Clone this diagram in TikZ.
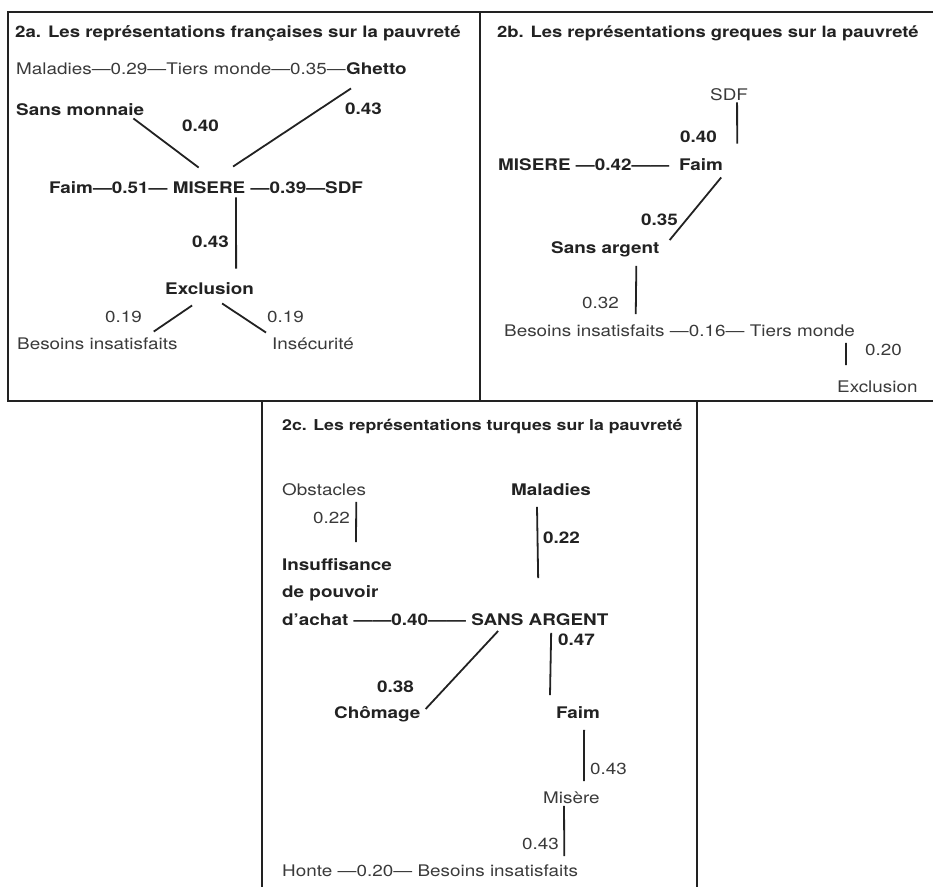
\documentclass[tikz,border=0pt]{standalone}
\usepackage{fontspec}
\setmainfont{TeX Gyre Heros}[FakeStretch=1.18]
\usepackage{tikz}
\usetikzlibrary{positioning}
\definecolor{ink}{HTML}{222222}
\definecolor{thin}{HTML}{3A3A3A}
\tikzset{word/.style={inner sep=0pt, text height=11.5pt, text depth=0pt, anchor=west, font=\fontsize{16}{19}\selectfont}}
\tikzset{heavy/.style={word, text=ink, font=\fontsize{16}{19}\selectfont\bfseries}}
\tikzset{light/.style={word, text=thin}}
\tikzset{heading/.style={heavy, font=\fontsize{#1}{19}\selectfont\bfseries}}
\tikzset{link/.style={draw=ink, line width=1.8pt}}
\tikzset{frame/.style={draw=ink, line width=1.6pt}}

\begin{document}
\begin{tikzpicture}[x=1pt, y=-1pt]
  \useasboundingbox (0,0) rectangle (933,887);

  \draw[frame] (933,12) -- (8,12) -- (8,401) -- (933,401);
  \draw[frame] (480,12) -- (480,401);
  \draw[frame] (262,401) -- (262,887);
  \draw[frame] (697,401) -- (697,887);

  % 2a
  \node[heading=15.8] (title2a) at (15,31.5) {2a. Les représentations françaises sur la pauvreté};
  \node[heavy] (ghetto) at (346,68.5) {Ghetto};
  \node[light, left=0pt of ghetto] (maladies2a) {Maladies—0.29—Tiers monde—0.35—};
  \node[heavy] (sansmonnaie) at (16,109.5) {Sans monnaie};
  \node[heavy] (w040a) at (182,126) {0.40};
  \node[heavy] (w043a) at (345,108.5) {0.43};
  \node[heavy] (faim2a) at (49,187.5) {Faim—0.51—};
  \node[heavy, right=5pt of faim2a] (misere2a) {MISERE};
  \node[heavy, right=5pt of misere2a] (sdf2a) {—0.39—SDF};
  \node[heavy] (w043b) at (192,241.5) {0.43};
  \node[heavy] (exclusion2a) at (165,288.5) {Exclusion};
  \node[light] (w019a) at (105,317) {0.19};
  \node[light] (w019b) at (267,317) {0.19};
  \node[light] (besoins2a) at (17,343.5) {Besoins insatisfaits};
  \node[light] (insecurite) at (272,343.5) {Insécurité};

  \draw[link] ([shift={(-11,3)}]sansmonnaie.south east) -- ([shift={(26,-14)}]misere2a.north west);
  \draw[link] ([shift={(5,14)}]ghetto.south west) -- ([shift={(24,-15)}]misere2a.north);
  \draw[link] ([shift={(27,4)}]misere2a.south) -- ([shift={(26.5,-14)}]exclusion2a.north);
  \draw[link] ([shift={(-17.5,11)}]exclusion2a.south) -- ([shift={(-24,-6)}]besoins2a.north east);
  \draw[link] ([shift={(12.5,9)}]exclusion2a.south) -- ([shift={(-6,-5)}]insecurite.north west);

  % 2b
  \node[heading=15.6] (title2b) at (497,31.5) {2b. Les représentations greques sur la pauvreté};
  \node[light] (sdf2b) at (710,94.5) {SDF};
  \node[heavy] (w040b) at (680,137) {0.40};
  \node[heavy] (misere2b) at (498,164.5) {MISERE};
  \node[heavy, right=5pt of misere2b] (dash042) {—0.42——};
  \node[heavy] (faim2b) at (679,164.5) {Faim};
  \node[heavy] (w035) at (641,220) {0.35};
  \node[heavy] (sansargent2b) at (551,248) {Sans argent};
  \node[light] (w032) at (582,303) {0.32};
  \node[light] (besoins2b) at (504,331) {Besoins insatisfaits};
  \node[light, right=5pt of besoins2b] (dash016) {—0.16—};
  \node[light, right=5pt of dash016] (tiers2b) {Tiers monde};
  \node[light] (w020) at (865,350) {0.20};
  \node[light] (exclusion2b) at (837,387) {Exclusion};

  \draw[link] ([shift={(8,2)}]sdf2b.south) -- ([shift={(14,-15)}]faim2b.north east);
  \draw[link] ([shift={(-2,7)}]faim2b.south east) -- ([shift={(10,-2)}]sansargent2b.north east);
  \draw[link] ([shift={(31,12)}]sansargent2b.south) -- ([shift={(-29,-11)}]besoins2b.north east);
  \draw[link] ([shift={(-9,6)}]tiers2b.south east) -- ([shift={(9,-16)}]exclusion2b.north west);

  % 2c
  \node[heading=15] (title2c) at (282,425) {2c. Les représentations turques sur la pauvreté};
  \node[light] (obstacles) at (282,490) {Obstacles};
  \node[light] (w022a) at (313,518) {0.22};
  \node[heavy] (maladies2c) at (511,490) {Maladies};
  \node[heavy] (w022b) at (543,538) {0.22};
  \node[heavy] (insuff) at (282,565) {Insuffisance};
  \node[heavy] (pouvoir) at (282,592) {de pouvoir};
  \node[heavy] (achat) at (282,620) {d’achat};
  \node[heavy, right=5pt of achat] (dash040) {——0.40——};
  \node[heavy, right=5pt of dash040] (sansargent2c) {SANS ARGENT};
  \node[heavy] (w047) at (558,640) {0.47};
  \node[heavy] (w038) at (377,687) {0.38};
  \node[heavy] (chomage) at (334,713) {Chômage};
  \node[heavy] (faim2c) at (556,713) {Faim};
  \node[light] (w043c) at (590,769) {0.43};
  \node[light] (misere2c) at (543,798) {Misère};
  \node[light] (w043d) at (522,844) {0.43};
  \node[light] (honte) at (282,871) {Honte};
  \node[light, right=5pt of honte] (dash020) {—0.20—};
  \node[light, right=5pt of dash020] (besoins2c) {Besoins insatisfaits};

  \draw[link] ([shift={(-10,6)}]obstacles.south east) -- ([shift={(74,-17)}]insuff.north west);
  \draw[link] ([shift={(26,11)}]maladies2c.south west) -- ([shift={(67,-36)}]sansargent2c.north west);
  \draw[link] ([shift={(80,7)}]sansargent2c.south west) -- ([shift={(-6,-12)}]faim2c.north west);
  \draw[link] ([shift={(27,5)}]sansargent2c.south west) -- ([shift={(5,-4)}]chomage.east);
  \draw[link] ([shift={(6,11)}]faim2c.south) -- ([shift={(12.6,-11)}]misere2c.north);
  \draw[link] ([shift={(-7.4,2)}]misere2c.south) -- ([shift={(66.5,-9)}]besoins2c.north);
\end{tikzpicture}
\end{document}
